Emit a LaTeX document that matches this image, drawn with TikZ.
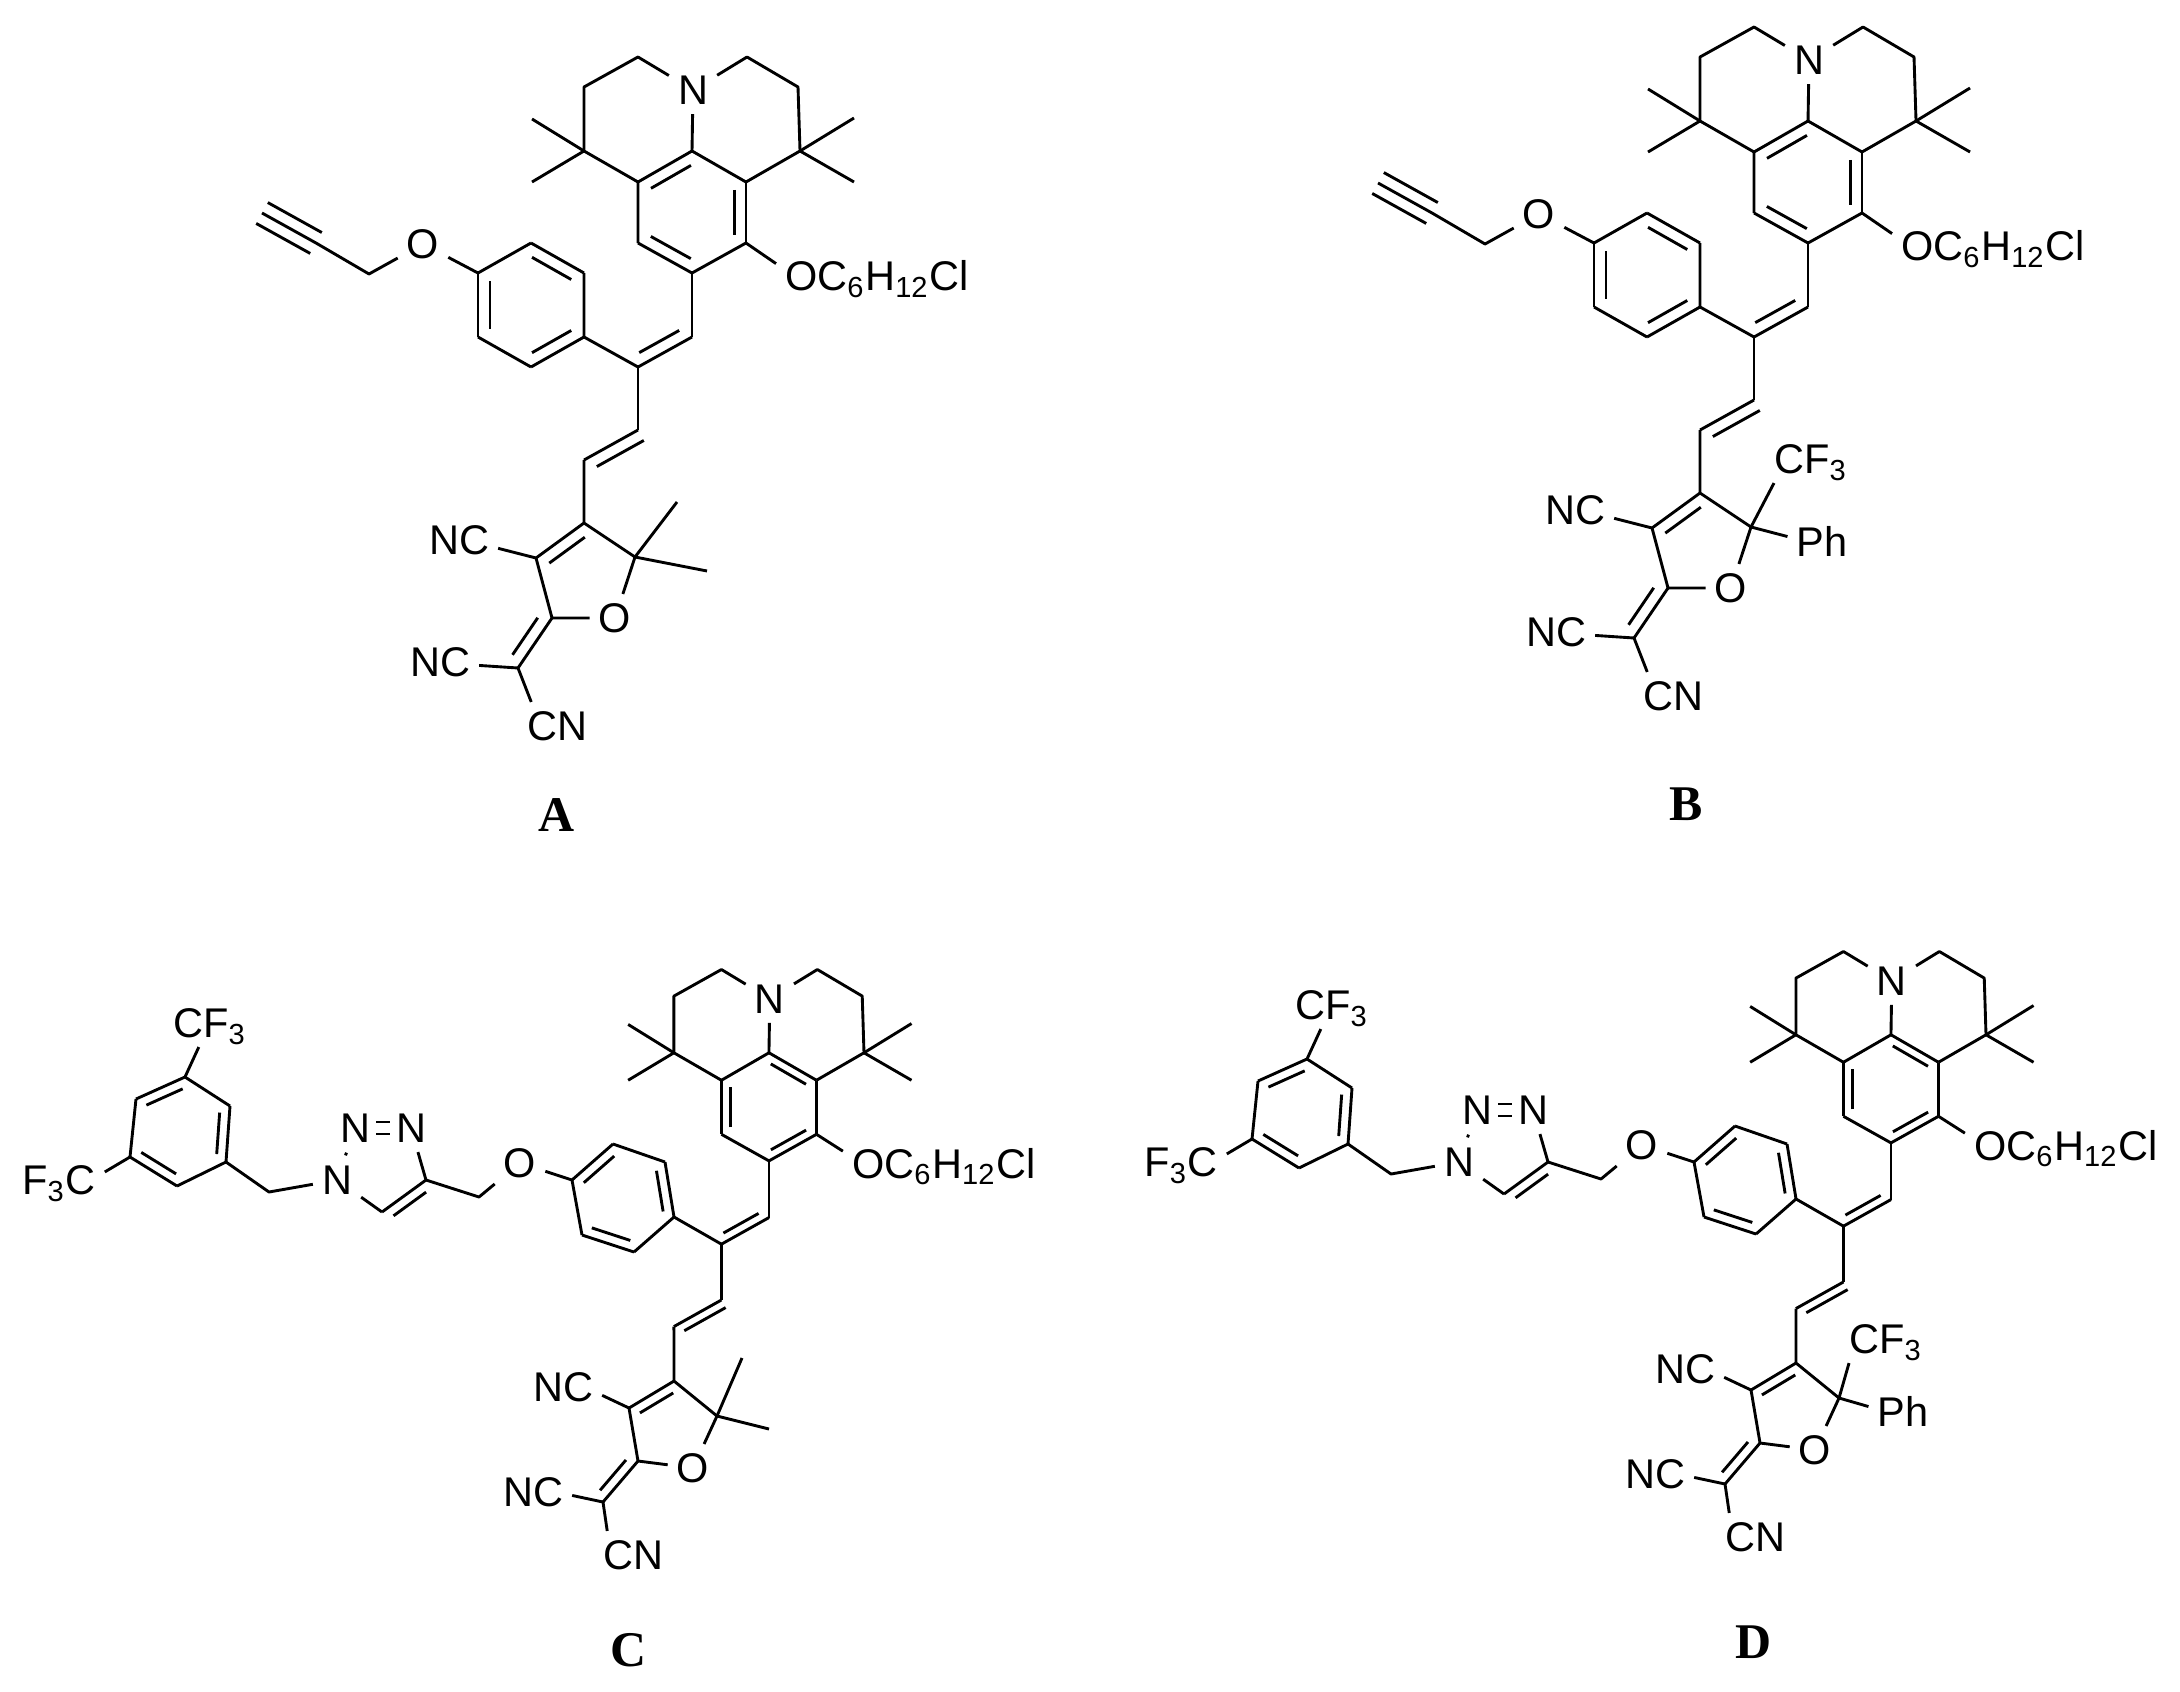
\documentclass[tikz,border=0pt]{standalone}
\usepackage{fontspec}
\setmainfont{Liberation Sans}
\newfontfamily\namefont{Liberation Serif}
\usetikzlibrary{calc}

\tikzset{
    atom/.style={font=\fontsize{11.8}{14}\selectfont, inner sep=2.2pt, text height=8.45pt, text depth=0pt},
    molname/.style={font=\namefont\bfseries\fontsize{14.2}{16}\selectfont, inner sep=0pt}
}

% spacing of the second line in a double bond
\newcommand{\bondgap}{3.4pt}
% double bond a-b, second line on the right of a->b
\newcommand{\dbl}[3][.13]{
    \draw (#2) -- (#3);
    \draw ($(#2)!.13!(#3)!\bondgap!-90:(#3)$) -- ($(#3)!#1!(#2)!\bondgap!90:(#2)$);
}
% six ring, atoms clockwise, double bonds 12, 34, 56
\newcommand{\hexa}[6]{
    \dbl{#1}{#2}
    \dbl{#3}{#4}
    \dbl{#5}{#6}
    \draw (#2) -- (#3) (#4) -- (#5) (#6) -- (#1);
}

% julolidine and the chain down to the furan ring
\newcommand{\core}[1]{
    \node[atom] (n) at (693,90) {N};
    \coordinate (c1) at (638,57);
    \coordinate (c2) at (747,57);
    \coordinate (c3) at (584,87);
    \coordinate (c4) at (798,87);
    \coordinate (q1) at (584,151);
    \coordinate (q2) at (800,151);
    \coordinate (m1) at (532,119);
    \coordinate (m2) at (532,182);
    \coordinate (m3) at (854,118);
    \coordinate (m4) at (854,182);
    \coordinate (a1) at (692,151);
    \coordinate (a2) at (746,182);
    \coordinate (a3) at (746,243);
    \coordinate (a4) at (692,273);
    \coordinate (a5) at (638,243);
    \coordinate (a6) at (638,182);
    \coordinate (v1) at (692,337);
    \coordinate (v2) at (638,367);
    \coordinate (v3) at (638,430);
    \coordinate (v4) at (584,460);
    \node[atom, anchor=west] (ocl) at (776,276) {OC\textsubscript{6}H\textsubscript{12}Cl};
    #1
    \draw (a1) -- (n) -- (c1) -- (c3) -- (q1) -- (a6);
    \draw (n) -- (c2) -- (c4) -- (q2) -- (a2);
    \draw (m1) -- (q1) -- (m2);
    \draw (m3) -- (q2) -- (m4);
    \draw (a3) -- (ocl.173);
    \draw (a4) -- (v1);
    \dbl{v1}{v2}
    \draw (v2) -- (v3);
    \dbl[0]{v4}{v3}
}

% furan ring: f1 f2 f3 f4 O, exo carbon, NC NC CN
\newcommand{\furan}[9]{
    \coordinate (f1) at (#1);
    \coordinate (f2) at (#2);
    \coordinate (f3) at (#3);
    \coordinate (f4) at (#4);
    \node[atom] (fo) at (#5) {O};
    \coordinate (ex) at (#6);
    \node[atom] (nc1) at (#7) {NC};
    \node[atom] (nc2) at (#8) {NC};
    \node[atom] (cn) at (#9) {CN};
    \draw (v4) -- (f1) -- (f4) -- (fo) -- (f3) -- (f2);
    \dbl{f2}{f1}
    \dbl{f3}{ex}
    \draw (f2) -- (nc1.-12);
    \draw (ex) -- (nc2.-5);
    \draw (ex) -- (cn.137);
}

% the two ends on f4
\newcommand{\gemme}[2]{
    \coordinate (m5) at (#1);
    \coordinate (m6) at (#2);
    \draw (m5) -- (f4) -- (m6);
}
\newcommand{\cfph}[2]{
    \node[atom] (cf) at (#1) {CF\textsubscript{3}};
    \node[atom] (ph) at (#2) {Ph};
    \draw (f4) -- (cf.213);
    \draw (f4) -- (ph.171);
}

% A and B share this frame
\newcommand{\propargyl}{
    \coordinate (b1) at (531,243);
    \coordinate (b2) at (584,273);
    \coordinate (b3) at (584,337);
    \coordinate (b4) at (531,367);
    \coordinate (b5) at (478,337);
    \coordinate (b6) at (478,273);
    \node[atom] (o) at (423,244) {O};
    \coordinate (p1) at (369,274);
    \coordinate (p2) at (316,243);
    \coordinate (p3) at (262,213);
    \hexa{b1}{b2}{b3}{b4}{b5}{b6}
    \draw (b3) -- (v2);
    \draw (b6) -- (o) -- (p1) -- (p2) -- (p3);
    \draw ($(p3)!\bondgap!90:(p2)$) -- ($(p2)!\bondgap!-90:(p3)$);
    \draw ($(p3)!\bondgap!-90:(p2)$) -- ($(p2)!\bondgap!90:(p3)$);
}
\newcommand{\molup}{
    \core{\hexa{a6}{a1}{a2}{a3}{a4}{a5}}
    \propargyl
    \furan{584,523}{536,558}{552,618}{635,557}{615,618}{518,668}{459,540}{440,662}{557,726}
}

% C and D share this frame
\newcommand{\triazolyl}{
    \coordinate (b1) at (613,1144);
    \coordinate (b2) at (665,1162);
    \coordinate (b3) at (674,1217);
    \coordinate (b4) at (634,1252);
    \coordinate (b5) at (582,1235);
    \coordinate (b6) at (572,1180);
    \node[atom] (o) at (520,1163) {O};
    \coordinate (h1) at (479,1197);
    \coordinate (t4) at (426,1180);
    \coordinate (t5) at (382,1212);
    \node[atom] (t1) at (337,1180) {N};
    \node[atom] (t2) at (355,1128) {N};
    \node[atom] (t3) at (411,1128) {N};
    \coordinate (h2) at (269,1192);
    \coordinate (r1) at (185,1077);
    \coordinate (r2) at (230,1106);
    \coordinate (r3) at (226,1162);
    \coordinate (r4) at (177,1186);
    \coordinate (r5) at (130,1157);
    \coordinate (r6) at (136,1099);
    \node[atom] (cf1) at (210,1023) {CF\textsubscript{3}};
    \node[atom] (cf2) at (59,1180) {F\textsubscript{3}C};
    \hexa{b6}{b1}{b2}{b3}{b4}{b5}
    \hexa{r6}{r1}{r2}{r3}{r4}{r5}
    \draw (b3) -- (v2);
    \draw (b6) -- (o) -- (h1) -- (t4) -- (t3);
    \dbl{t5}{t4}
    \draw (t5) -- (t1) -- (h2) -- (r3);
    \draw[shorten >=1pt, shorten <=1pt] (t1) -- (t2);
    \draw[shorten >=-.9pt, shorten <=-.9pt] ([yshift=1.7pt]t2.east) -- ([yshift=1.7pt]t3.west);
    \draw[shorten >=-.9pt, shorten <=-.9pt] ([yshift=-1.7pt]t2.east) -- ([yshift=-1.7pt]t3.west);
    \draw (r1) -- (cf1.245);
    \draw (r5) -- (cf2.10);
}
\newcommand{\moldown}{
    \renewcommand{\bondgap}{2.8pt}
    \begin{scope}[shift={(160,919)}, xscale=.88, yscale=.886]
        \core{\hexa{a1}{a2}{a3}{a4}{a5}{a6}}
    \end{scope}
    \triazolyl
    \furan{674,1381}{629,1408}{638,1461}{717,1416}{693,1468}{603,1502}{563,1387}{533,1492}{633,1555}
}

\begin{document}
\begin{tikzpicture}[x=.01cm, y=-.01cm, line width=.82pt, line join=round]
    \useasboundingbox (0,0) rectangle (2180,1691);

    % A
    \begin{scope}[name prefix=A-]
        \molup
        \gemme{677,502}{707,571}
    \end{scope}
    % B
    \begin{scope}[shift={(1116,-30)}, name prefix=B-]
        \molup
        \cfph{695,489}{706,572}
    \end{scope}
    % C
    \begin{scope}[name prefix=C-]
        \moldown
        \gemme{742,1358}{769,1429}
    \end{scope}
    % D
    \begin{scope}[shift={(1122,-18)}, name prefix=D-]
        \moldown
        \cfph{764,1357}{781,1430}
    \end{scope}

    % names
    \node[molname] (nameA) at (557,815) {A};
    \node[molname] (nameB) at (1686,804) {B};
    \node[molname] (nameC) at (629,1650) {C};
    \node[molname] (nameD) at (1753,1642) {D};
\end{tikzpicture}
\end{document}
